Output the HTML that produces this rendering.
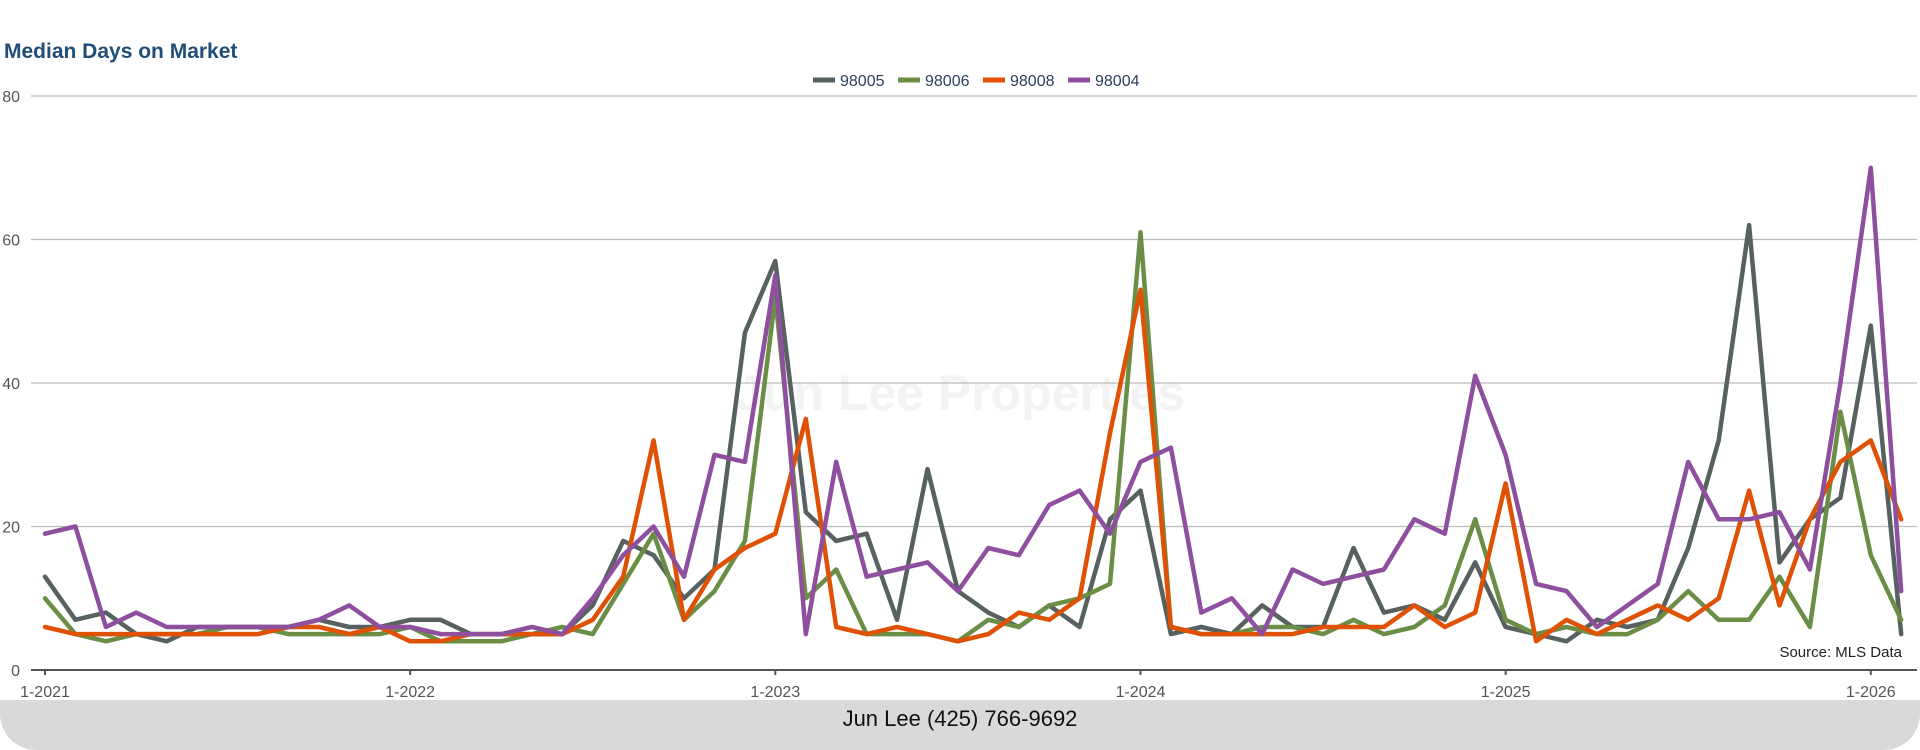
<!DOCTYPE html>
<html><head><meta charset="utf-8"><style>
html,body{margin:0;padding:0;background:#fff;}
body{width:1920px;height:750px;overflow:hidden;position:relative;font-family:"Liberation Sans",sans-serif;}
#title{position:absolute;left:4px;top:40px;font-size:21px;font-weight:bold;color:#1f4e79;}
#footer{position:absolute;left:0;top:700px;width:1920px;height:50px;background:#d9d9d9;border-radius:0 0 36px 36px;text-align:center;font-size:22px;line-height:38px;color:#111;}
svg{position:absolute;left:0;top:0;}
</style></head><body>
<div id="title">Median Days on Market</div>
<svg id="chart" width="1920" height="700"></svg>
<div id="footer">Jun Lee (425) 766-9692</div>
<script>
const seriesNames = ["98005","98006","98008","98004"];
const seriesColors = ["#566160","#6b8e47","#df5206","#8e4f9e"];
const yTicks = [0,20,40,60,80];
const xTickLabels = ["1-2021","1-2022","1-2023","1-2024","1-2025","1-2026"];
const s98005 = [13,7,8,5,4,6,6,6,6,7,6,6,7,7,5,5,5,5,9,18,16,10,14,47,57,22,18,19,7,28,11,8,6,9,6,21,25,5,6,5,9,6,6,17,8,9,7,15,6,5,4,7,6,7,17,32,62,15,21,24,48,5];
const s98006 = [10,5,4,5,5,5,6,6,5,5,5,5,6,4,4,4,5,6,5,12,19,7,11,18,52,10,14,5,5,5,4,7,6,9,10,12,61,6,5,5,6,6,5,7,5,6,9,21,7,5,6,5,5,7,11,7,7,13,6,36,16,7];
const s98008 = [6,5,5,5,5,5,5,5,6,6,5,6,4,4,5,5,5,5,7,13,32,7,14,17,19,35,6,5,6,5,4,5,8,7,10,33,53,6,5,5,5,5,6,6,6,9,6,8,26,4,7,5,7,9,7,10,25,9,21,29,32,21];
const s98004 = [19,20,6,8,6,6,6,6,6,7,9,6,6,5,5,5,6,5,10,16,20,13,30,29,55,5,29,13,14,15,11,17,16,23,25,19,29,31,8,10,5,14,12,13,14,21,19,41,30,12,11,6,9,12,29,21,21,22,14,40,70,11];
const allSeries = [s98005,s98006,s98008,s98004];

const NS="http://www.w3.org/2000/svg";
const svg=document.getElementById('chart');
const x0=45, monthW=30.43, y0=670, yTop=96, yMax=80;
function xs(i){return x0+i*monthW;}
function ys(v){return y0-(v/yMax)*(y0-yTop);}
function mk(tag,attrs){const e=document.createElementNS(NS,tag);for(const k in attrs)e.setAttribute(k,attrs[k]);svg.appendChild(e);return e;}

// watermark
const wm=mk('text',{x:960,y:410,'text-anchor':'middle','font-size':50,'font-weight':'bold',fill:'#f3f3f3','font-family':'Liberation Sans, sans-serif'});
wm.textContent='Jun Lee Properties';



yTicks.forEach(t=>{
  const y=ys(t);
  if(t>0){
    const g=mk('line',{x1:31,x2:1917,y1:y,y2:y,stroke:'#bcbcbc','stroke-width':1.2});
    
    
  }
  const l=mk('text',{x:20,y:y+6,'text-anchor':'end','font-size':16,fill:'#555'});
  l.textContent=t;
  
  
});
const ax=mk('line',{x1:31,x2:1917,y1:y0,y2:y0,stroke:'#555','stroke-width':2});


xTickLabels.forEach((lab,k)=>{
  const x=xs(k*12);
  const tk=mk('line',{x1:x,x2:x,y1:y0,y2:y0+5,stroke:'#555','stroke-width':2});
  
  
  const t=mk('text',{x:x,y:y0+27,'text-anchor':'middle','font-size':16,fill:'#555'});
  t.textContent=lab;
  
  
});
allSeries.forEach((s,si)=>{
  const pts=s.map((v,i)=>xs(i).toFixed(1)+','+ys(v).toFixed(1)).join(' ');
  const p=mk('polyline',{points:pts,fill:'none',stroke:seriesColors[si],'stroke-width':4.5,'stroke-linejoin':'round','stroke-linecap':'round'});
  
  
});
// legend
seriesNames.forEach((n,i)=>{
  const lx=813+i*85;
  const sw=mk('line',{x1:lx,x2:lx+22,y1:80,y2:80,stroke:seriesColors[i],'stroke-width':5});
  
  
  const t=mk('text',{x:lx+27,y:86,'font-size':16,fill:'#2b3f5c'});
  t.textContent=n;
  
  
});
const src=mk('text',{x:1902,y:657,'text-anchor':'end','font-size':15,fill:'#222'});
src.textContent='Source: MLS Data';


</script>
</body></html>
